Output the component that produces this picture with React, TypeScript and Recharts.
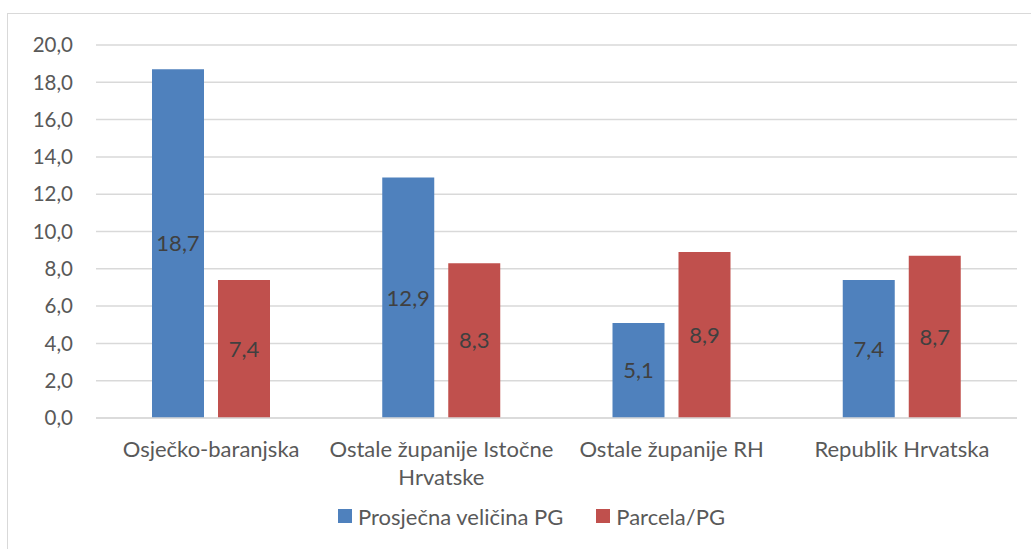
import React from 'react';
import { BarChart, Bar, XAxis, YAxis, CartesianGrid, Legend, LabelList } from 'recharts';

const categories = ['Osječko-baranjska', 'Ostale županije Istočne Hrvatske', 'Ostale županije RH', 'Republik Hrvatska'];
const prosjecnaVelicina = [18.7, 12.9, 5.1, 7.4];
const parcela = [7.4, 8.3, 8.9, 8.7];
const seriesNames = ['Prosječna veličina PG', 'Parcela/PG'];
const yTicks = [0, 2, 4, 6, 8, 10, 12, 14, 16, 18, 20];

const data = categories.map((c, i) => ({ name: c, a: prosjecnaVelicina[i], b: parcela[i] }));

const FONT = 'Lato, "Open Sans", sans-serif';
const fmt = (v: number) => Number(v).toFixed(1).replace('.', ',');

let ctx: CanvasRenderingContext2D | null = null;
const measure = (s: string, size: number) => {
  if (typeof document === 'undefined') return s.length * size * 0.5;
  if (!ctx) ctx = document.createElement('canvas').getContext('2d');
  if (!ctx) return s.length * size * 0.5;
  ctx.font = `${size}px ${FONT}`;
  return ctx.measureText(s).width;
};

const wrap = (text: string, maxW: number, size: number) => {
  const words = text.split(' ');
  const lines: string[] = [];
  let cur = '';
  words.forEach((w) => {
    const test = cur ? cur + ' ' + w : w;
    if (cur && measure(test, size) > maxW) {
      lines.push(cur);
      cur = w;
    } else cur = test;
  });
  if (cur) lines.push(cur);
  return lines;
};

const CategoryTick = (props: any) => {
  const { x, y, payload } = props;
  const lines = wrap(String(payload.value), 228, 22);
  return (
    <text x={x} y={y + 31} textAnchor="middle" fill="#595959" fontSize={22} fontFamily={FONT}>
      {lines.map((l, i) => (
        <tspan key={i} x={x} dy={i === 0 ? 0 : 28}>
          {l}
        </tspan>
      ))}
    </text>
  );
};

const colors = ['#4f81bd', '#c0504d'];

const LegendContent = () => (
  <div style={{ display: 'flex', alignItems: 'center', paddingLeft: 338, height: 26, fontFamily: FONT, fontSize: 22, color: '#595959' }}>
    {seriesNames.map((n, i) => (
      <div key={n} style={{ display: 'flex', alignItems: 'center', marginRight: 33 }}>
        <div style={{ width: 14, height: 14, background: colors[i], marginRight: 6 }} />
        <span>{n}</span>
      </div>
    ))}
  </div>
);

export default function App() {
  return (
    <div style={{ position: 'absolute', left: 0, top: 0, width: 1031, height: 549, background: '#fff', overflow: 'hidden' }}>
      <div style={{ position: 'absolute', left: 7, top: 13, width: 1040, height: 560, border: '1px solid #d9d9d9', boxSizing: 'border-box' }} />
      <BarChart
        width={1031}
        height={549}
        data={data}
        margin={{ top: 45, right: 14, left: 0, bottom: 0 }}
        barSize={52}
        barGap={14}
      >
        <CartesianGrid vertical={false} stroke="#d9d9d9" strokeWidth={1.5} />
        <XAxis
          dataKey="name"
          height={105}
          tick={<CategoryTick />}
          tickLine={false}
          axisLine={{ stroke: '#d9d9d9', strokeWidth: 1.5 }}
          interval={0}
        />
        <YAxis
          width={96}
          domain={[0, 20]}
          ticks={yTicks}
          tickFormatter={fmt}
          tickLine={false}
          tickSize={0}
          tickMargin={23}
          axisLine={false}
          tick={{ fill: '#595959', fontSize: 20.5, fontFamily: FONT }}
        />
        <Legend verticalAlign="bottom" content={<LegendContent />} wrapperStyle={{ left: 0, width: 1031, top: 503, bottom: 'auto' }} />
        <Bar dataKey="a" name={seriesNames[0]} fill={colors[0]} isAnimationActive={false}>
          <LabelList dataKey="a" position="center" formatter={fmt} fill="#404040" fontSize={22} fontFamily={FONT} />
        </Bar>
        <Bar dataKey="b" name={seriesNames[1]} fill={colors[1]} isAnimationActive={false}>
          <LabelList dataKey="b" position="center" formatter={fmt} fill="#404040" fontSize={22} fontFamily={FONT} />
        </Bar>
      </BarChart>
    </div>
  );
}
